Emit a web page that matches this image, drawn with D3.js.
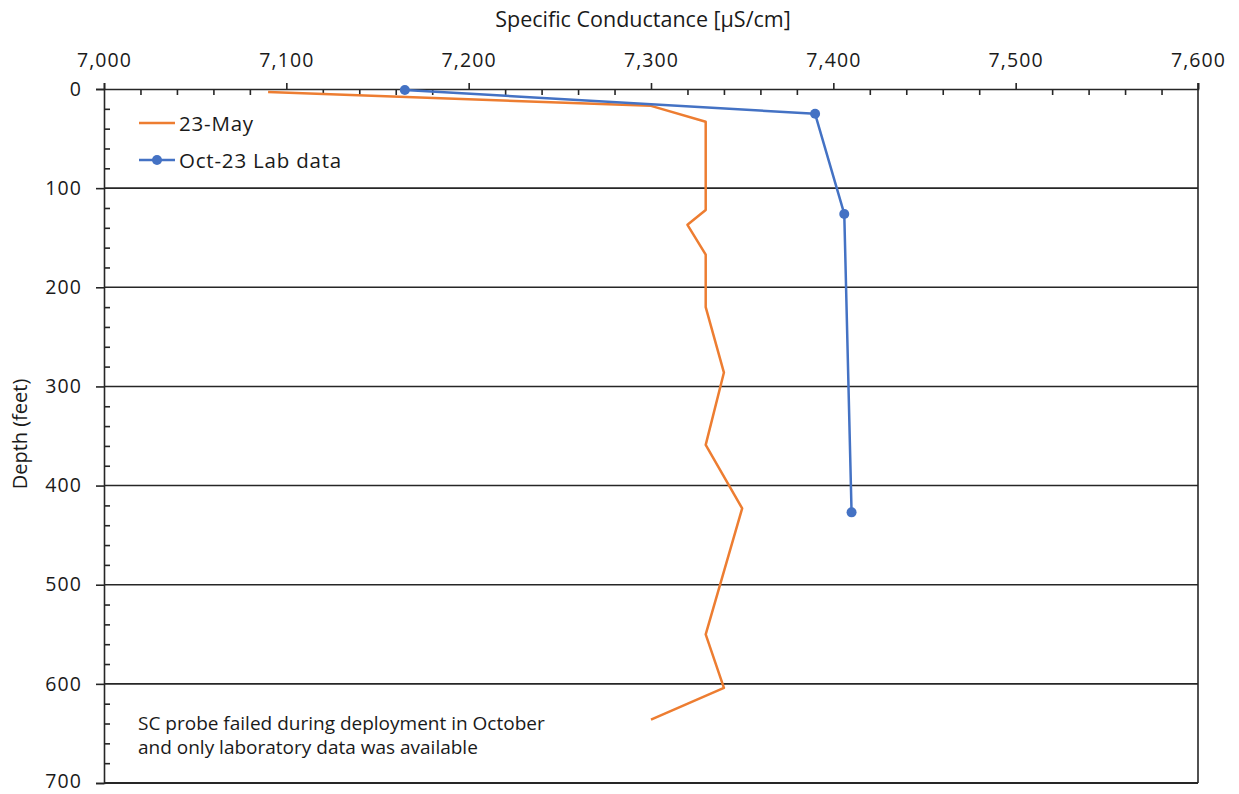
<!DOCTYPE html>
<html>
<head>
<meta charset="utf-8">
<script src="https://cdn.jsdelivr.net/npm/d3@7"></script>
<style>
  body { margin: 0; background: #fff; }
  svg { display: block; font-family: "Open Sans", "Noto Sans", sans-serif; }
</style>
</head>
<body>
<svg id="chart" width="1239" height="794"></svg>
<script>
// ---- data ----
const mayConductance = [7090, 7300, 7330, 7330, 7320, 7330, 7330, 7340, 7330, 7350, 7330, 7340, 7300];
const mayDepth       = [3, 17, 33, 122, 137, 167, 220, 286, 359, 423, 550, 604, 636];
const octConductance = [7165, 7390, 7406, 7410];
const octDepth       = [1, 25, 126, 427];
const xTicks = [7000, 7100, 7200, 7300, 7400, 7500, 7600];
const yTicks = [0, 100, 200, 300, 400, 500, 600, 700];
const seriesNames = ["23-May", "Oct-23 Lab data"];
const note = ["SC probe failed during deployment in October", "and only laboratory data was available"];

(function () {
const svg = d3.select("#chart");
const pL = 104, pR = 1198, pT = 89, pB = 783;

const x = d3.scaleLinear().domain([7000, 7600]).range([pL, pR]);
const y = d3.scaleLinear().domain([0, 700]).range([pT, pB]);

const orange = "#ED7D31", blue = "#4472C4", ink = "#262626", txt = "#1a1a1a";

// horizontal gridlines
svg.append("g").selectAll("line").data(yTicks.filter(d => d > 0)).join("line")
  .attr("x1", pL).attr("x2", pR)
  .attr("y1", d => y(d)).attr("y2", d => y(d))
  .attr("stroke", ink).attr("stroke-width", 1.6);

// right border
svg.append("line").attr("x1", pR).attr("x2", pR)
  .attr("y1", pT - 6).attr("y2", pB)
  .attr("stroke", ink).attr("stroke-width", 1.6);

// top axis, major ticks outward
svg.append("g").attr("class", "xax").attr("transform", `translate(0,${pT})`)
  .call(d3.axisTop(x).tickValues(xTicks).tickSize(6).tickPadding(16)
        .tickFormat(d3.format(",")));
// minor ticks inward
svg.append("g").attr("transform", `translate(0,${pT})`)
  .call(d3.axisTop(x).tickValues(d3.range(7020, 7600, 20).filter(v => v % 100 !== 0))
        .tickSize(-6).tickFormat(""))
  .call(g => g.select(".domain").remove());

// left axis
svg.append("g").attr("class", "yax").attr("transform", `translate(${pL},0)`)
  .call(d3.axisLeft(y).tickValues(yTicks).tickSize(8).tickPadding(14)
        .tickFormat(d3.format("d")));
svg.append("g").attr("transform", `translate(${pL},0)`)
  .call(d3.axisLeft(y).tickValues(d3.range(20, 700, 20).filter(v => v % 100 !== 0))
        .tickSize(-6).tickFormat(""))
  .call(g => g.select(".domain").remove());

svg.selectAll(".domain").attr("stroke", ink).attr("stroke-width", 1.6);
svg.selectAll(".tick line").attr("stroke", ink).attr("stroke-width", 1.6);
svg.selectAll(".tick text").attr("fill", txt).style("font-size", "19.5px")
  .style("letter-spacing", "1.1px")
  .style("font-family", "'Open Sans', sans-serif");
// keep the bottom label inside the picture
svg.selectAll(".yax .tick text").filter(d => d === 700).attr("dy", "0.22em");

// bottom line
svg.append("line").attr("x1", pL).attr("x2", pR)
  .attr("y1", pB).attr("y2", pB)
  .attr("stroke", ink).attr("stroke-width", 2);

// axis titles
svg.append("text").attr("x", 643).attr("y", 27).attr("text-anchor", "middle")
  .style("font-size", "21.5px").attr("fill", txt)
  .text("Specific Conductance [µS/cm]");
svg.append("text").attr("transform", "translate(27,434) rotate(-90)")
  .attr("text-anchor", "middle").style("font-size", "20px").attr("fill", txt)
  .text("Depth (feet)");

// lines
const line = d3.line().x(d => x(d[0])).y(d => y(d[1]));
const mayData = mayConductance.map((v, i) => [v, mayDepth[i]]);
const octData = octConductance.map((v, i) => [v, octDepth[i]]);

svg.append("path").datum(mayData).attr("d", line)
  .attr("fill", "none").attr("stroke", orange).attr("stroke-width", 2.5)
  .attr("stroke-linejoin", "round");
svg.append("path").datum(octData).attr("d", line)
  .attr("fill", "none").attr("stroke", blue).attr("stroke-width", 2.5)
  .attr("stroke-linejoin", "round");
svg.append("g").selectAll("circle").data(octData).join("circle")
  .attr("cx", d => x(d[0])).attr("cy", d => y(d[1])).attr("r", 5)
  .attr("fill", blue);

// legend
const legend = svg.append("g");
[orange, blue].forEach((c, i) => {
  const ly = 123 + i * 37;
  legend.append("line").attr("x1", 139).attr("x2", 175).attr("y1", ly).attr("y2", ly)
    .attr("stroke", c).attr("stroke-width", 2.5);
  if (i === 1) legend.append("circle").attr("cx", 157).attr("cy", ly).attr("r", 5).attr("fill", c);
  legend.append("text").attr("x", 179).attr("y", ly + 8).style("font-size", "20.5px")
    .style("letter-spacing", "0.8px")
    .attr("fill", txt).text(seriesNames[i]);
});

// note
svg.append("g").selectAll("text").data(note).join("text")
  .attr("x", 138).attr("y", (d, i) => 730 + i * 24)
  .style("font-size", "19px").attr("fill", txt).text(d => d);
})();
</script>
</body>
</html>
